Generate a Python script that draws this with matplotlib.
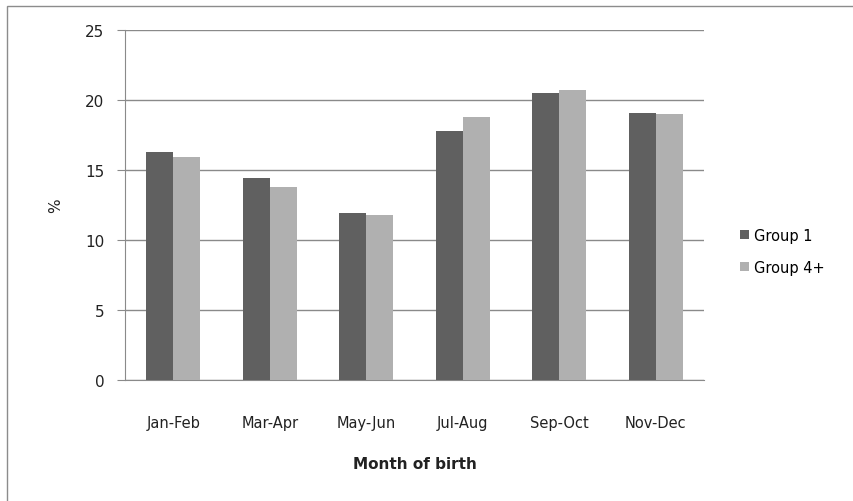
import numpy as np
import matplotlib.pyplot as plt
from matplotlib.patches import Rectangle

months = ["Jan-Feb", "Mar-Apr", "May-Jun", "Jul-Aug", "Sep-Oct", "Nov-Dec"]
group1 = [16.3, 14.4, 11.9, 17.8, 20.5, 19.1]
group4 = [15.9, 13.8, 11.8, 18.8, 20.7, 19.0]
yticks = [0, 5, 10, 15, 20, 25]

fig = plt.figure(figsize=(8.54, 5.02), dpi=100)
# outer chart frame (Excel style)
fig.patches.append(Rectangle((7 / 854, -0.05), 1.0, 1 - 7 / 502 + 0.05,
                             transform=fig.transFigure, fill=False,
                             edgecolor="#8c8c8c", linewidth=1.0))

ax = fig.add_axes([125 / 854, 1 - 381 / 502, (704 - 125) / 854, (381 - 31) / 502])

x = np.arange(len(months))
w = 0.28
ax.bar(x - w / 2, group1, width=w, color="#606060", label="Group 1", zorder=3)
ax.bar(x + w / 2, group4, width=w, color="#b0b0b0", label="Group 4+", zorder=3)

ax.set_xlim(-0.5, len(months) - 0.5)
ax.set_ylim(0, 25)
ax.set_yticks(yticks)
ax.set_xticks(x)
ax.set_xticklabels(months)
ax.yaxis.grid(True, color="#8a8a8a", linewidth=1.0, zorder=0)
ax.set_axisbelow(True)

for s in ["top", "right"]:
    ax.spines[s].set_visible(False)
ax.spines["left"].set_color("#8a8a8a")
ax.spines["bottom"].set_color("#8a8a8a")
ax.tick_params(axis="y", length=6, color="#8a8a8a", labelsize=11, pad=9,
               labelcolor="#222222")
ax.tick_params(axis="x", length=0, labelsize=10.5, pad=25, labelcolor="#222222")

ax.set_ylabel("%", fontsize=11, labelpad=16, color="#222222")
ax.set_xlabel("Month of birth", fontsize=11, fontweight="bold", labelpad=19,
              color="#222222")

ax.legend(loc="center left", bbox_to_anchor=(1.062, 0.368), frameon=False,
          fontsize=10.5, handlelength=0.6, handleheight=0.6, labelspacing=1.15,
          handletextpad=0.4, borderaxespad=0, borderpad=0)

fig.savefig("out.png", dpi=100)
